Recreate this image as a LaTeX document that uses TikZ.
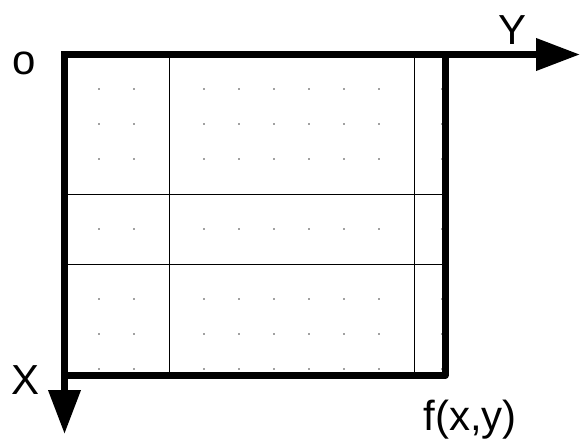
\documentclass[tikz,border=0pt]{standalone}
\usepackage{fontspec}
\setmainfont{Liberation Sans}
\usetikzlibrary{arrows.meta}
\begin{document}
\begin{tikzpicture}[x=1pt,y=-1pt,
  thickline/.style={line width=7pt},
  thinline/.style={line width=1pt},
  axis/.style={line width=7pt,-{Triangle[length=44pt,width=31pt]}},
  lbl/.style={inner sep=0pt,anchor=base,font=\fontsize{42}{48}\selectfont},
  griddot/.style={fill=black!75,draw=none}]
\useasboundingbox (0,0) rectangle (580,439);
% corners
\coordinate (O) at (64.5,54.5);
\coordinate (TR) at (445,54.5);
\coordinate (BR) at (445,375.5);
\coordinate (BL) at (64.5,375.5);
\coordinate (Yend) at (580,54.5);
\coordinate (Xend) at (64.5,434);
% thin grid lines
\coordinate (v1t) at (169.5,54.5); \coordinate (v1b) at (169.5,375.5);
\coordinate (v2t) at (414.5,54.5); \coordinate (v2b) at (414.5,375.5);
\coordinate (h1l) at (64.5,194); \coordinate (h1r) at (445,194);
\coordinate (h2l) at (64.5,264); \coordinate (h2r) at (445,264);
\draw[thinline] (v1t) -- (v1b) (v2t) -- (v2b) (h1l) -- (h1r) (h2l) -- (h2r);
% dots
\foreach \yy in {89,124,159,229,299,334,369}{
  \foreach \xx in {99,134,204,239,274,309,344,379,442}{
    \fill[griddot] (\xx,\yy) circle (0.8pt);
  }
}
% frame
\draw[thickline,line join=round] (TR) -- (BR) -- (BL);
\draw[axis] ([xshift=-3.5pt]O) -- (Yend);
\draw[axis] ([yshift=-3.5pt]O) -- (Xend);
% labels
\node[lbl] (lo) at (24,74) {o};
\node[lbl] (lY) at (512,44) {Y};
\node[lbl] (lX) at (26,394) {X};
\node[lbl] (lf) at (470,430) {f(x,y)};
\end{tikzpicture}
\end{document}
